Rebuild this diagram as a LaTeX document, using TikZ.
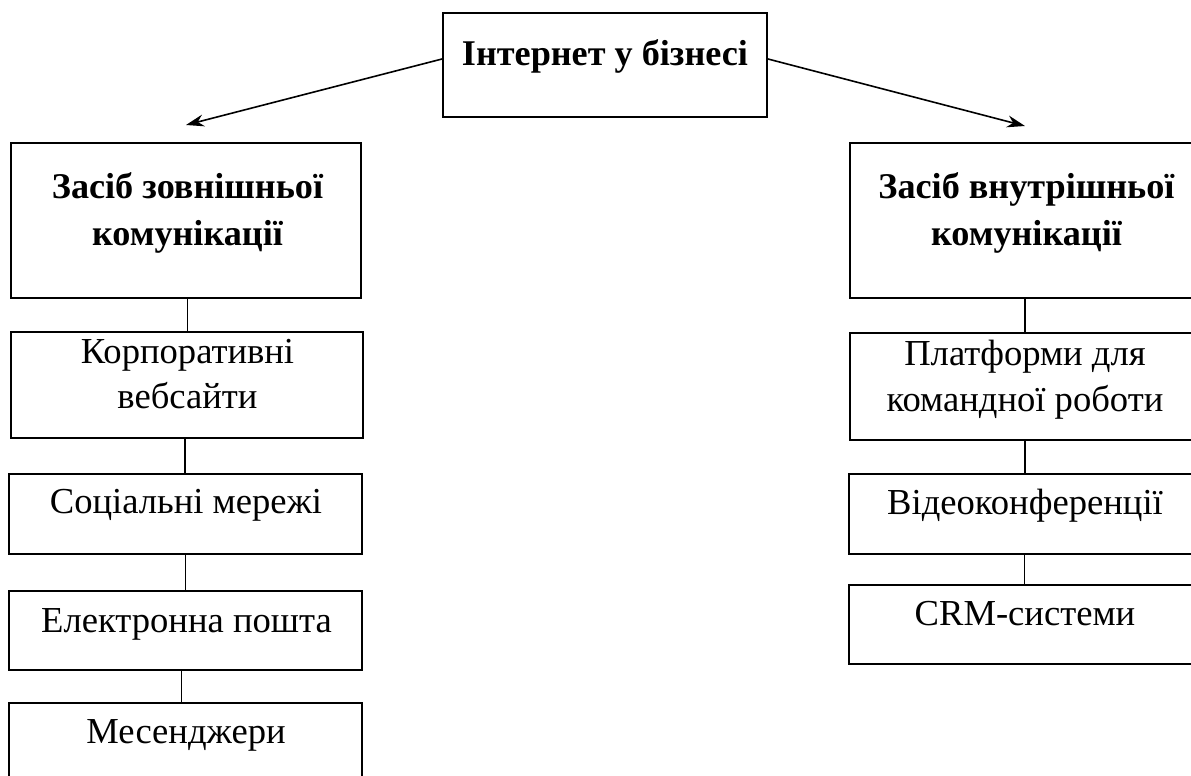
\documentclass[tikz,border=0pt]{standalone}
\usepackage{fontspec}
\setmainfont{Liberation Serif}
\usetikzlibrary{arrows.meta}
\tikzset{
  box/.style={draw=black, line width=1pt, rectangle, inner sep=0pt},
  lbl/.style={inner sep=0pt, anchor=base, font=\fontsize{18.3}{22}\selectfont},
  blbl/.style={lbl, font=\fontsize{18.1}{22}\selectfont\bfseries},
  conn/.style={draw=black, line width=0.6pt},
  arr/.style={draw=black, line width=0.8pt, -{Stealth[length=9pt,width=6pt]}}
}
\begin{document}
\begin{tikzpicture}[x=0.5pt,y=-0.5pt]
\useasboundingbox (0,0) rectangle (1191,776);
\clip (0,0) rectangle (1191,776);
% boxes
\node[box, minimum width=162pt, minimum height=52pt] (top) at (605,65) {};
\node[box, minimum width=175pt, minimum height=77.5pt] (lmain) at (186,220.5) {};
\node[box, minimum width=175pt, minimum height=77.5pt] (rmain) at (1025,220.5) {};
\node[box, minimum width=176pt, minimum height=53pt] (korp) at (187,385) {};
\node[box, minimum width=176.5pt, minimum height=40pt] (soc) at (185.5,514) {};
\node[box, minimum width=176.5pt, minimum height=39.5pt] (el) at (185.5,630.5) {};
\node[box, minimum width=176.5pt, minimum height=40pt] (mes) at (185.5,743) {};
\node[box, minimum width=175pt, minimum height=53.5pt] (plat) at (1025,386.5) {};
\node[box, minimum width=175.5pt, minimum height=40pt] (video) at (1024.5,514) {};
\node[box, minimum width=175.5pt, minimum height=39.5pt] (crm) at (1024.5,624.5) {};
% texts
\node[blbl] (topt) at (605,65) {Інтернет у бізнесі};
\node[blbl] (lmaina) at (187.5,198) {Засіб зовнішньої};
\node[blbl] (lmainb) at (187.5,245) {комунікації};
\node[blbl] (rmaina) at (1026.5,198) {Засіб внутрішньої};
\node[blbl] (rmainb) at (1026.5,245) {комунікації};
\node[lbl] (korpa) at (187.5,363) {Корпоративні};
\node[lbl] (korpb) at (187.5,408) {вебсайти};
\node[lbl] (soct) at (186,513) {Соціальні мережі};
\node[lbl] (elt) at (186.5,632) {Електронна пошта};
\node[lbl] (mest) at (186,743) {Месенджери};
\node[lbl] (plata) at (1025,365) {Платформи для};
\node[lbl] (platb) at (1025,411) {командної роботи};
\node[lbl] (videot) at (1025,514) {Відеоконференції};
\node[lbl] (crmt) at (1025,625) {CRM-системи};
% arrows
\coordinate (la) at ([yshift=8.5pt]lmain.north);
\coordinate (ra) at ([yshift=8pt]rmain.north);
\draw[arr] ([yshift=3pt]top.west) -- (la);
\draw[arr] ([yshift=3pt]top.east) -- (ra);
% connectors
\draw[conn] ([xshift=0.75pt]lmain.south) -- ([xshift=0.75pt]lmain.south |- korp.north);
\draw[conn] ([xshift=-1pt]korp.south) -- ([xshift=-1pt]korp.south |- soc.north);
\draw[conn] (soc.south) -- (soc.south |- el.north);
\draw[conn] ([xshift=-2pt]el.south) -- ([xshift=-2pt]el.south |- mes.north);
\draw[conn] (rmain.south) -- (rmain.south |- plat.north);
\draw[conn] (plat.south) -- (plat.south |- video.north);
\draw[conn] (video.south) -- (video.south |- crm.north);
\end{tikzpicture}
\end{document}
